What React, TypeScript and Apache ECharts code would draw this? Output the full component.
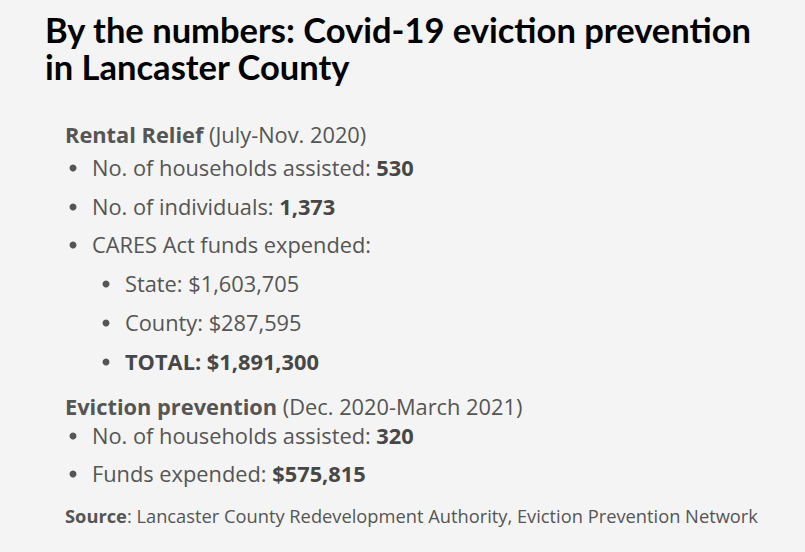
import React, { useEffect, useRef } from "react";
import * as echarts from "echarts";

const titleLines = ["By the numbers: Covid-19 eviction prevention", "in Lancaster County"];

const rentalHeader = ["Rental Relief", " (July-Nov. 2020)"];
const rentalLabels = ["No. of households assisted: ", "No. of individuals: ", "CARES Act funds expended:"];
const rentalValues = ["530", "1,373", ""];
const caresLabels = ["State: ", "County: ", "TOTAL: "];
const caresValues = ["$1,603,705", "$287,595", "$1,891,300"];

const evictionHeader = ["Eviction prevention", " (Dec. 2020-March 2021)"];
const evictionLabels = ["No. of households assisted: ", "Funds expended: "];
const evictionValues = ["320", "$575,815"];

const sourceText = ["Source", ": Lancaster County Redevelopment Authority, Eviction Prevention Network"];

export default function App() {
  const ref = useRef<HTMLDivElement>(null);
  useEffect(() => {
    document.body.style.margin = "0";
    const chart = echarts.init(ref.current!, null, { renderer: "svg" });
    const body = "'Open Sans', sans-serif";
    const grey = "#555555";
    const dark = "#474747";
    const fs = 21.8;
    const els: any[] = [];

    titleLines.forEach((t, i) => {
      els.push({
        type: "text",
        x: 45,
        y: 29 + i * 37,
        style: {
          text: t,
          font: "bold 34.5px Lato, sans-serif",
          fill: "#000000",
          verticalAlign: "middle",
        },
      });
    });

    const header = (parts: string[], y: number) => {
      els.push({
        type: "text",
        x: 65,
        y,
        style: {
          text: `{b|${parts[0]}}{r|${parts[1]}}`,
          verticalAlign: "middle",
          rich: {
            b: { font: `bold ${fs}px ${body}`, fill: grey },
            r: { font: `${fs}px ${body}`, fill: grey },
          },
        },
      });
    };

    const bullet = (label: string, value: string, y: number, level: number, mode: "bold" | "regular" | "all") => {
      const bx = level === 0 ? 73 : 106;
      const tx = level === 0 ? 92 : 125;
      els.push({ type: "circle", shape: { cx: bx, cy: y + 1, r: 3.5 }, style: { fill: grey } });
      const vStyle = mode === "regular" ? "r" : "v";
      els.push({
        type: "text",
        x: tx,
        y,
        style: {
          text: `{${mode === "all" ? "v" : "r"}|${label}}` + (value ? `{${vStyle}|${value}}` : ""),
          verticalAlign: "middle",
          rich: {
            r: { font: `${fs}px ${body}`, fill: grey },
            v: { font: `bold ${fs}px ${body}`, fill: dark },
          },
        },
      });
    };

    header(rentalHeader, 134);
    const y0 = [167, 206, 244];
    rentalLabels.forEach((l, i) => bullet(l, rentalValues[i], y0[i], 0, "bold"));
    const y1 = [283, 322, 361];
    caresLabels.forEach((l, i) => bullet(l, caresValues[i], y1[i], 1, i === 2 ? "all" : "regular"));
    header(evictionHeader, 406);
    const y2 = [435, 473];
    evictionLabels.forEach((l, i) => bullet(l, evictionValues[i], y2[i], 0, "bold"));

    els.push({
      type: "text",
      x: 65,
      y: 515,
      style: {
        text: `{b|${sourceText[0]}}{r|${sourceText[1]}}`,
        verticalAlign: "middle",
        rich: {
          b: { font: `bold 18.3px ${body}`, fill: grey },
          r: { font: `18.3px ${body}`, fill: grey },
        },
      },
    });

    chart.setOption({
      animation: false,
      backgroundColor: "#f4f4f4",
      graphic: { elements: els },
    });
    return () => chart.dispose();
  }, []);
  return <div ref={ref} style={{ position: "absolute", left: 0, top: 0, width: 805, height: 552 }} />;
}
